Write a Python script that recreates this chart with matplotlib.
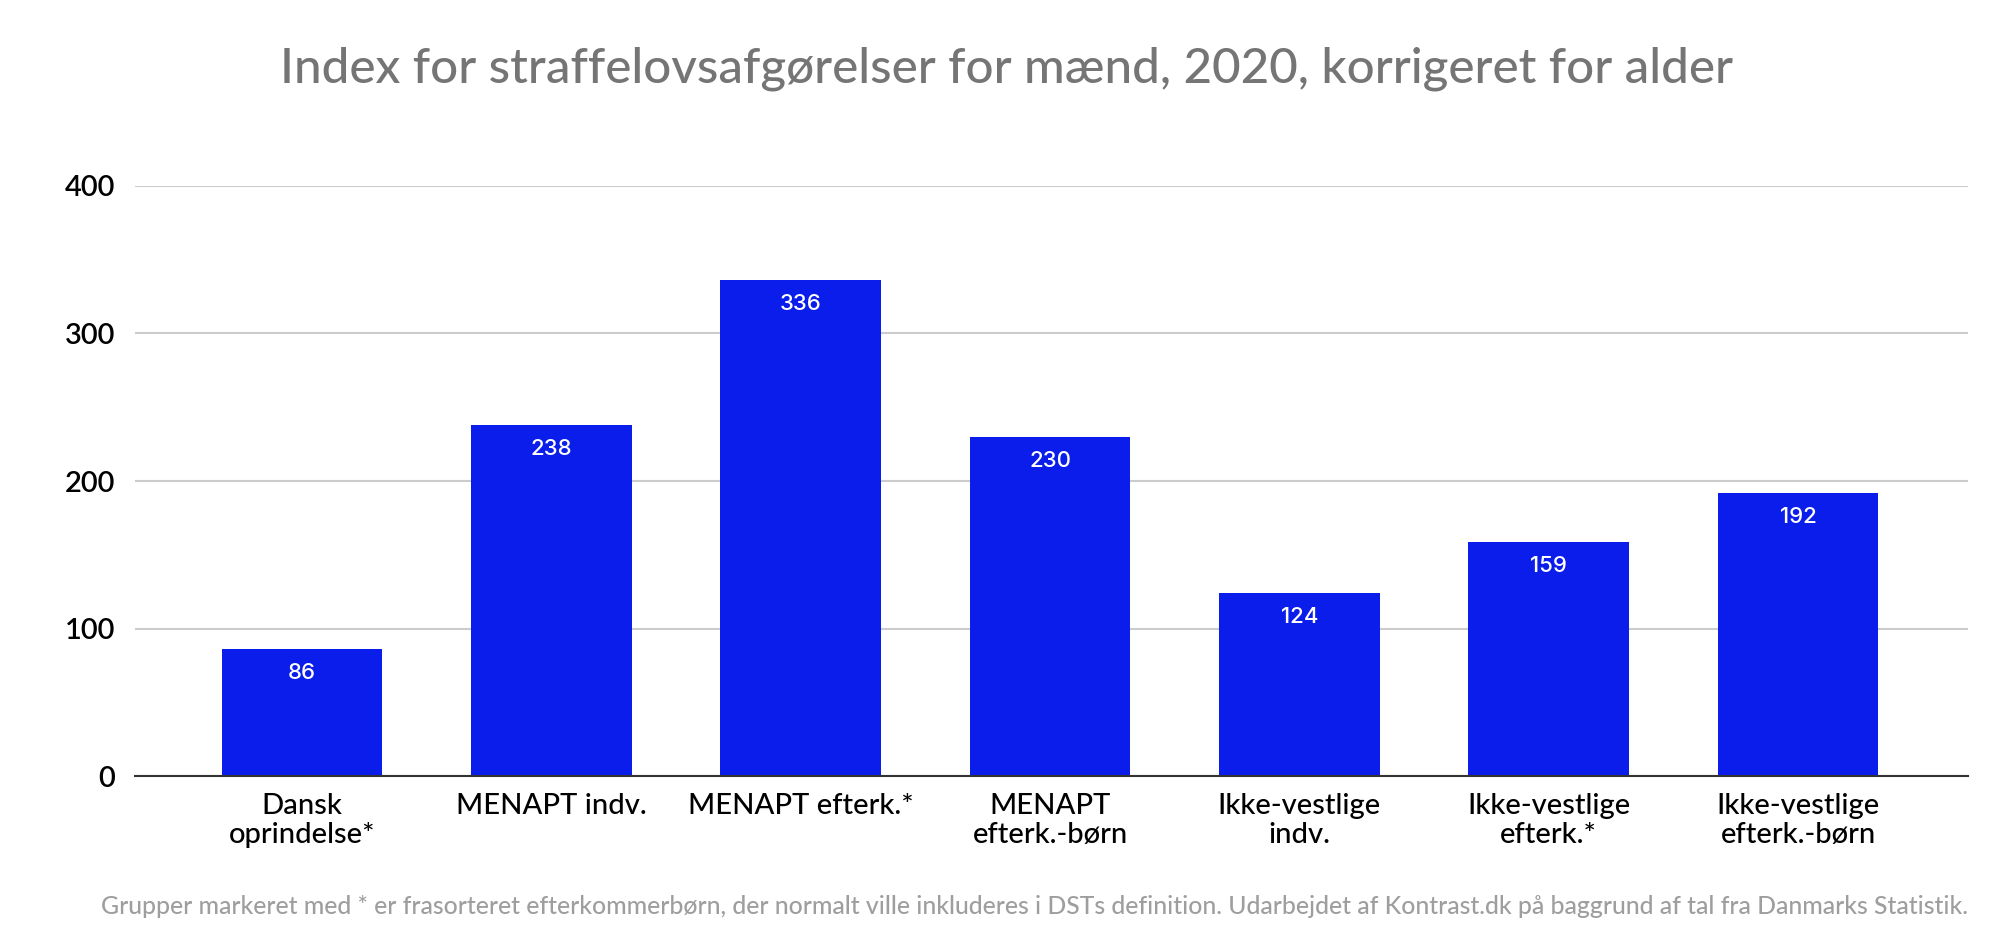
import matplotlib.pyplot as plt
import numpy as np

categories = ["Dansk\noprindelse*", "MENAPT indv.", "MENAPT efterk.*", "MENAPT\nefterk.-børn",
              "Ikke-vestlige\nindv.", "Ikke-vestlige\nefterk.*", "Ikke-vestlige\nefterk.-børn"]
values = [86, 238, 336, 230, 124, 159, 192]
yticks = [0, 100, 200, 300, 400]

title = "Index for straffelovsafgørelser for mænd, 2020, korrigeret for alder"
footer = ("Grupper markeret med * er frasorteret efterkommerbørn, der normalt ville inkluderes i DSTs "
          "definition. Udarbejdet af Kontrast.dk på baggrund af tal fra Danmarks Statistik.")

bar_color = "#0a1deb"
fam = ["Lato", "DejaVu Sans"]

fig = plt.figure(figsize=(20.14, 9.48), dpi=100)
ax = fig.add_axes([0.067, 0.181, 0.910, 0.623])

x = np.arange(len(categories))
bars = ax.bar(x, values, width=0.644, color=bar_color, zorder=3)

# value labels inside the top of each bar
for b, v in zip(bars, values):
    ax.annotate(str(v), xy=(b.get_x() + b.get_width() / 2, v), xytext=(0, -10),
                textcoords="offset points", ha="center", va="top",
                color="white", fontsize=16, fontweight="medium",
                family=["Inter", "Lato", "DejaVu Sans"])

ax.set_xlim(-0.67, 6.68)
ax.set_ylim(0, 400)
ax.set_yticks(yticks)
ax.set_yticklabels([str(t) for t in yticks], fontsize=21, fontweight="semibold", family=fam)
ax.set_xticks(x)
ax.set_xticklabels(categories, fontsize=21, fontweight="medium", family=fam, linespacing=1.15)
ax.tick_params(axis="both", length=0, pad=14)
ax.tick_params(axis="x", pad=12)

ax.grid(axis="y", color="#cccccc", linewidth=1.5, zorder=0)
for s in ["top", "right", "left"]:
    ax.spines[s].set_visible(False)
ax.spines["bottom"].set_color("#333333")
ax.spines["bottom"].set_linewidth(1.5)
ax.spines["bottom"].set_zorder(4)

fig.text(0.5, 0.928, title, ha="center", va="center", fontsize=35.5, fontweight="medium",
         color="#757575", family=fam)
fig.text(0.977, 0.044, footer, ha="right", va="center", fontsize=17.85, fontweight="medium",
         color="#9e9e9e", family=fam)

fig.savefig("out.png", dpi=100, facecolor="white")
